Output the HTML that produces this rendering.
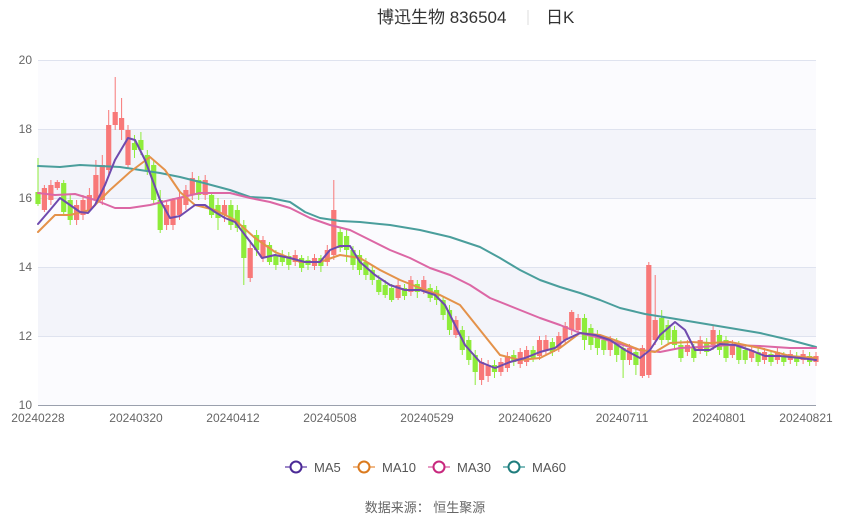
<!DOCTYPE html>
<html><head><meta charset="utf-8"><style>
body{margin:0;background:#fff;width:850px;height:517px;overflow:hidden}
</style></head><body>
<svg width="850" height="517" xmlns="http://www.w3.org/2000/svg" font-family="Liberation Sans, Noto Sans CJK SC, sans-serif">
<rect x="38" y="60" width="778" height="345" fill="#fbfbfe"/>
<rect x="38" y="129" width="778" height="69" fill="#f3f4fa"/>
<rect x="38" y="267" width="778" height="69" fill="#f3f4fa"/>
<g stroke="#dfe3ef" stroke-width="1">
<line x1="38" x2="816" y1="60.5" y2="60.5"/><line x1="38" x2="816" y1="129.5" y2="129.5"/>
<line x1="38" x2="816" y1="198.5" y2="198.5"/><line x1="38" x2="816" y1="267.5" y2="267.5"/>
<line x1="38" x2="816" y1="336.5" y2="336.5"/>
</g>
<line x1="38" x2="816" y1="405.5" y2="405.5" stroke="#9aa0ad"/>
<g font-size="12" fill="#666" text-anchor="end">
<text x="32" y="64">20</text><text x="32" y="133">18</text><text x="32" y="202">16</text>
<text x="32" y="271">14</text><text x="32" y="340">12</text><text x="32" y="409">10</text>
</g>
<g font-size="12" fill="#666" text-anchor="middle">
<text x="38" y="422">20240228</text><text x="136" y="422">20240320</text><text x="233" y="422">20240412</text>
<text x="330" y="422">20240508</text><text x="427" y="422">20240529</text><text x="525" y="422">20240620</text>
<text x="622" y="422">20240711</text><text x="719" y="422">20240801</text><text x="806" y="422">20240821</text>
</g>
<!-- red candles -->
<path fill="none" stroke="#f87878" stroke-width="1" d="M44.4 185V212M50.9 180V205M57.3 180V190M76.6 200V225M83 195V220M89.4 188V212M95.9 160V205M102.3 155V205M108.7 110V175M115.2 77V130M121.6 98V140M128 125V168M166.6 200V230M173 198V230M179.5 192V220M185.9 185V210M192.3 172V200M205.2 175V200M224.5 200V222M250.2 240V282M263 236V262M295.2 250V266M314.5 254V270M327.3 245V266M333.8 180V260M398.1 280V300M410.9 276V296M423.8 276V294M455.9 316V338M481.6 358V385M488.1 360V382M500.9 358V376M507.4 352V372M520.2 348V368M526.6 346V366M539.5 336V360M545.9 335V354M558.8 332V352M565.2 322V344M571.7 310V335M578.1 314V334M610.2 336V356M629.5 344V365M642.4 345V378M648.8 262V378M655.2 275V345M687.4 340V356M700.2 336V354M713.1 326V350M732.4 340V358M751.7 346V362M764.5 348V364M777.4 348V364M790.3 350V364M803.1 350V364M816 352V366"/>
<path fill="none" stroke="#f87878" stroke-width="5.2" d="M44.4 188V210M50.9 185V200M57.3 182V188M76.6 205V220M83 200V215M89.4 195V210M95.9 175V200M102.3 165V200M108.7 125V170M115.2 112V125M121.6 118V130M128 130V165M166.6 205V225M173 200V225M179.5 198V215M185.9 190V205M192.3 178V195M205.2 180V195M224.5 205V215M250.2 248V278M263 240V258M295.2 255V262M314.5 258V266M327.3 250V262M333.8 210V255M398.1 285V298M410.9 280V292M423.8 280V290M455.9 320V335M481.6 362V380M488.1 365V376M500.9 362V372M507.4 356V368M520.2 352V364M526.6 350V362M539.5 340V356M545.9 340V350M558.8 336V348M565.2 326V340M571.7 312V330M578.1 318V330M610.2 340V350M629.5 348V360M642.4 348V376M648.8 265V375M655.2 320V340M687.4 345V352M700.2 340V350M713.1 330V345M732.4 344V355M751.7 350V358M764.5 352V360M777.4 352V360M790.3 354V360M803.1 354V360M816 356V362"/>
<!-- green candles -->
<path fill="none" stroke="#8eec3a" stroke-width="1" d="M38 158V206M63.7 180V214M70.2 195V225M134.5 135V158M140.9 132V155M147.3 150V175M153.7 160V205M160.2 190V233M198.7 176V200M211.6 192V218M218 198V230M230.9 200V230M237.3 205V232M243.8 220V285M256.6 230V256M269.5 242V265M275.9 250V270M282.3 250V266M288.8 252V270M301.6 255V272M308 256V270M320.9 255V272M340.2 228V252M346.6 230V262M353 246V270M359.5 250V275M365.9 258V280M372.3 265V285M378.8 275V295M385.2 280V298M391.6 284V302M404.5 284V300M417.3 280V298M430.2 284V302M436.6 286V305M443.1 296V320M449.5 305V335M462.3 326V355M468.8 336V365M475.2 350V385M494.5 360V378M513.8 350V366M533.1 346V362M552.4 338V356M584.5 314V350M590.9 324V350M597.4 330V355M603.8 336V355M616.7 338V362M623.1 344V378M635.9 348V375M661.7 310V345M668.1 320V345M674.5 326V350M680.9 340V362M693.8 344V362M706.7 338V356M719.5 330V355M726 336V362M738.8 341V364M745.2 346V364M758.1 348V366M771 350V366M783.8 352V366M796.7 352V366M809.6 352V366"/>
<path fill="none" stroke="#8eec3a" stroke-width="5.2" d="M38 192V204M63.7 183V212M70.2 200V220M134.5 143V150M140.9 140V150M147.3 155V170M153.7 165V200M160.2 200V230M198.7 180V195M211.6 195V215M218 205V218M230.9 205V225M237.3 210V228M243.8 225V258M256.6 235V250M269.5 245V262M275.9 255V265M282.3 255V262M288.8 256V265M301.6 258V268M308 260V265M320.9 258V266M340.2 232V248M346.6 236V250M353 250V265M359.5 255V270M365.9 262V275M372.3 270V280M378.8 280V292M385.2 285V295M391.6 288V300M404.5 288V296M417.3 284V292M430.2 288V298M436.6 290V300M443.1 300V315M449.5 310V330M462.3 330V350M468.8 340V360M475.2 355V372M494.5 365V372M513.8 355V362M533.1 350V358M552.4 342V352M584.5 318V340M590.9 328V345M597.4 335V348M603.8 340V350M616.7 342V355M623.1 348V360M635.9 352V365M661.7 318V340M668.1 325V340M674.5 330V345M680.9 345V358M693.8 348V358M706.7 342V352M719.5 335V350M726 340V358M738.8 345V360M745.2 350V360M758.1 352V362M771 354V362M783.8 356V362M796.7 356V362M809.6 356V362"/>
<g fill="none" stroke-width="2" stroke-linejoin="round" stroke-linecap="round">
<polyline stroke="#4a9e9c" points="38,166 60,167 80,165 100,166 120,167 140,170 160,173 180,177 200,182 230,190 250,197 270,198 290,202 305,212 320,218 340,221 360,222 390,225 420,230 450,237 480,247 500,258 520,270 540,280 560,287 580,293 600,300 620,308 645,314 670,318 700,323 730,328 760,333 790,340 816,347"/>
<polyline stroke="#dc67a5" points="38,193 55,195 75,194 95,200 115,208 130,208 150,205 170,200 200,193 230,193 250,198 270,202 290,208 310,218 330,225 350,230 370,240 390,250 410,258 430,268 450,275 470,285 490,298 520,310 540,318 560,325 580,333 600,338 620,344 640,350 660,352 680,348 700,347 730,345 760,346 790,348 816,348"/>
<polyline stroke="#e4924a" points="38,232 55,215 70,215 90,210 110,190 130,172 150,157 165,170 180,192 195,205 215,210 235,220 255,238 275,252 300,262 320,262 340,255 360,258 380,270 400,280 420,288 440,295 460,305 480,330 500,355 520,360 540,358 560,348 580,333 600,335 620,342 640,350 655,352 670,343 690,342 710,343 730,342 760,348 790,356 816,358"/>
<polyline stroke="#6f4aae" points="38,224 50,210 60,198 70,205 80,212 88,213 95,205 105,185 115,160 128,138 135,140 145,160 160,200 170,218 180,216 195,205 205,205 215,212 225,218 235,222 245,235 255,248 262,258 275,255 290,258 305,262 320,262 330,250 340,246 350,246 360,262 375,275 390,285 405,290 420,290 435,295 445,305 455,325 465,345 480,362 495,368 510,362 525,358 540,352 555,348 565,340 580,333 595,335 610,340 625,350 640,358 650,350 660,335 675,322 685,330 695,350 710,350 720,344 735,345 750,350 765,356 780,356 800,358 816,360"/>
</g>
<text x="377" y="23" font-size="17" fill="#333">博迅生物 836504</text>
<line x1="528" x2="528" y1="10" y2="25" stroke="#ddd"/>
<text x="546" y="23" font-size="17" fill="#333">日K</text>
<g font-size="13" fill="#555">
<line x1="285" x2="307" y1="467" y2="467" stroke="#9c86c8" stroke-width="2"/><circle cx="296" cy="467" r="5.5" fill="#fff" stroke="#4b2a96" stroke-width="2"/><text x="314" y="472">MA5</text>
<line x1="353" x2="375" y1="467" y2="467" stroke="#f0b887" stroke-width="2"/><circle cx="364" cy="467" r="5.5" fill="#fff" stroke="#db7a1e" stroke-width="2"/><text x="382" y="472">MA10</text>
<line x1="428" x2="450" y1="467" y2="467" stroke="#e79ac4" stroke-width="2"/><circle cx="439" cy="467" r="5.5" fill="#fff" stroke="#c8287e" stroke-width="2"/><text x="457" y="472">MA30</text>
<line x1="503" x2="525" y1="467" y2="467" stroke="#7fbcbc" stroke-width="2"/><circle cx="514" cy="467" r="5.5" fill="#fff" stroke="#1f7d7d" stroke-width="2"/><text x="532" y="472">MA60</text>
</g>
<text x="425" y="512" font-size="13" fill="#666" text-anchor="middle">数据来源：  恒生聚源</text>
</svg>
</body></html>
